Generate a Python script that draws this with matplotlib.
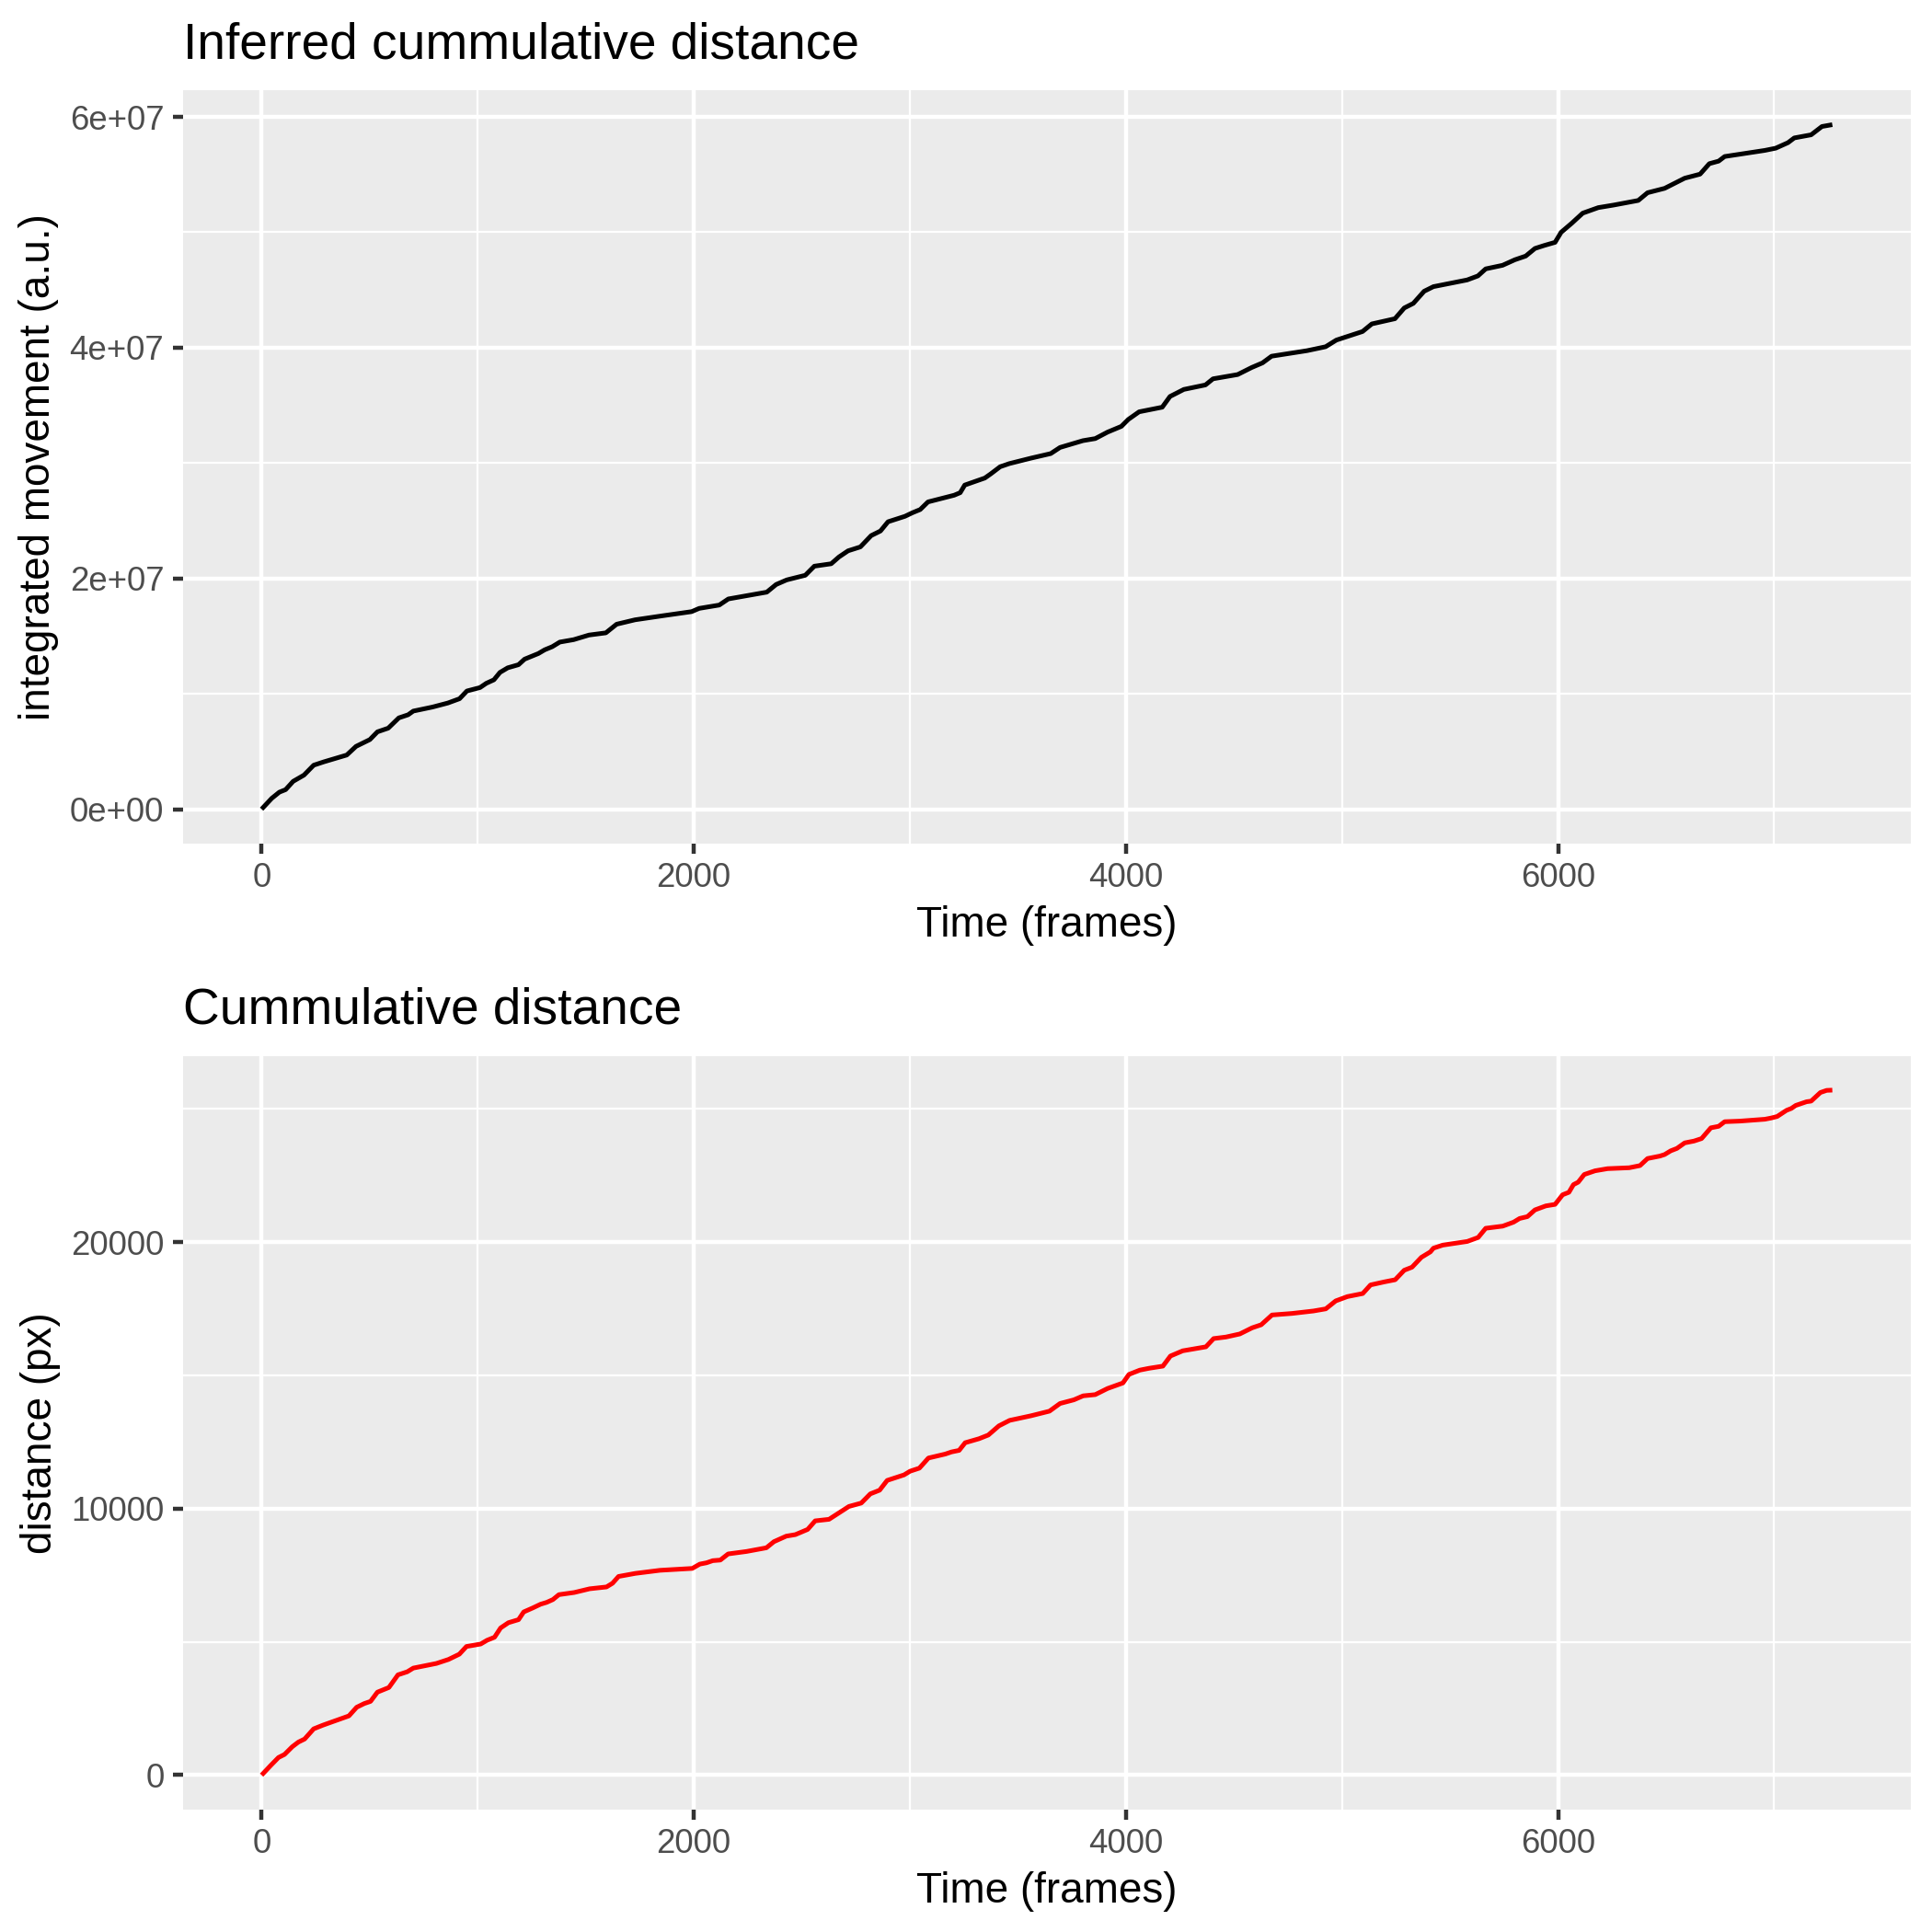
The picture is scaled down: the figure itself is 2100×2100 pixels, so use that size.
import matplotlib
matplotlib.use("Agg")
import matplotlib.pyplot as plt
from matplotlib.ticker import FixedLocator, FuncFormatter

plt.rcParams['font.family'] = ['Liberation Sans', 'DejaVu Sans']

# ---------------- data ----------------
frames_top = [0, 47, 82, 111, 146, 196, 241, 288, 394, 437,
              501, 536, 586, 635, 678, 702, 791, 862, 916, 950,
              1011, 1040, 1075, 1103, 1139, 1189, 1217, 1281, 1310, 1345,
              1380, 1444, 1515, 1593, 1643, 1728, 1855, 1990, 2025,
              2118, 2160, 2338, 2381, 2430, 2516, 2558, 2636, 2672, 2714,
              2771, 2821, 2864, 2899, 2977, 3013, 3048, 3084, 3205, 3233,
              3254, 3347, 3375, 3418, 3460, 3560, 3652, 3695, 3801, 3858,
              3915, 3979,
              4011, 4061, 4168, 4204, 4268, 4368, 4403, 4517, 4582, 4632,
              4674, 4838, 4924, 4974, 5095, 5138, 5245, 5288, 5330, 5380,
              5423, 5579, 5629, 5665, 5743, 5800, 5850, 5893, 5936, 5986,
              6014, 6064, 6114, 6186, 6257, 6371, 6414, 6493, 6586, 6657,
              6700, 6743, 6771, 6957, 7007, 7064, 7093, 7171, 7221, 7269]
# integrated movement, in units of 1e7 (a.u.)
movement_top_e7 = [0, 0.094, 0.147, 0.169, 0.241, 0.295, 0.381, 0.410, 0.469, 0.544,
                   0.603, 0.670, 0.702, 0.791, 0.818, 0.850, 0.885, 0.920, 0.957, 1.024,
                   1.054, 1.091, 1.121, 1.185, 1.225, 1.252, 1.300, 1.349, 1.381, 1.408,
                   1.448, 1.469, 1.509, 1.528, 1.603, 1.641, 1.676, 1.712, 1.740,
                   1.769, 1.822, 1.881, 1.947, 1.987, 2.027, 2.106, 2.127, 2.186, 2.239,
                   2.273, 2.371, 2.411, 2.491, 2.538, 2.570, 2.597, 2.663, 2.721, 2.743,
                   2.809, 2.870, 2.907, 2.968, 2.995, 3.042, 3.082, 3.135, 3.194, 3.212,
                   3.268, 3.318,
                   3.378, 3.444, 3.484, 3.577, 3.638, 3.677, 3.730, 3.767, 3.828, 3.868,
                   3.926, 3.974, 4.008, 4.066, 4.140, 4.206, 4.251, 4.344, 4.384, 4.489,
                   4.529, 4.587, 4.622, 4.683, 4.714, 4.762, 4.794, 4.860, 4.886, 4.913,
                   5.000, 5.080, 5.166, 5.214, 5.236, 5.276, 5.343, 5.381, 5.469, 5.504,
                   5.595, 5.617, 5.657, 5.710, 5.729, 5.777, 5.818, 5.845, 5.917, 5.933]

frames_bottom = [0, 43, 78, 106, 142, 170, 199, 241, 284, 312,
                 383, 404, 440, 475, 504, 536, 589, 631, 674, 702,
                 759, 809, 865, 915, 948, 1014, 1043, 1078, 1106, 1142,
                 1189, 1213, 1255, 1291, 1319, 1348, 1376, 1447, 1518, 1596,
                 1624, 1652, 1730, 1844, 1993, 2028,
                 2059, 2088, 2123, 2159, 2244, 2336, 2371, 2428, 2470, 2527,
                 2562, 2626, 2676, 2718, 2775, 2817, 2860, 2895, 2973, 3001,
                 3044, 3086, 3164, 3193, 3228, 3256, 3320, 3363, 3412, 3462,
                 3561, 3646, 3695, 3759, 3802, 3858, 3915, 3986,
                 4014, 4064, 4107, 4171, 4206, 4263, 4320, 4370, 4406, 4463,
                 4527, 4584, 4626, 4676, 4769, 4868, 4925, 4971, 5025, 5096,
                 5132, 5196, 5246, 5288, 5324, 5367, 5409, 5423, 5466, 5580,
                 5630, 5665, 5744, 5794, 5822, 5858, 5893, 5943, 5986,
                 6021, 6050, 6071, 6093, 6121, 6171, 6229, 6329, 6379, 6414,
                 6471, 6493, 6521, 6550, 6586, 6629, 6664, 6707, 6743, 6771,
                 6843, 6957, 6986, 7014, 7057, 7079, 7100, 7150, 7171, 7214,
                 7243, 7269]
distance_px = [0, 370, 660, 775, 1065, 1238, 1354, 1736, 1875, 1956,
               2164, 2222, 2546, 2685, 2766, 3113, 3287, 3762, 3877, 4016,
               4109, 4190, 4340, 4537, 4826, 4919, 5058, 5174, 5521, 5718,
               5833, 6123, 6273, 6412, 6481, 6586, 6771, 6852, 6991, 7060,
               7199, 7454, 7569, 7685, 7755, 7917,
               7966, 8046, 8069, 8299, 8391, 8529, 8759, 8966, 9023, 9218,
               9540, 9598, 9862, 10080, 10207, 10552, 10690, 11057, 11264, 11402,
               11517, 11897, 12046, 12126, 12184, 12471, 12621, 12759, 13103, 13310,
               13483, 13655, 13943, 14080, 14230, 14276, 14506, 14713,
               15034, 15195, 15264, 15345, 15724, 15920, 16000, 16069, 16379, 16437,
               16552, 16782, 16897, 17264, 17322, 17414, 17494, 17793, 17954, 18069,
               18391, 18506, 18586, 18943, 19057, 19425, 19632, 19770, 19885, 20023,
               20172, 20517, 20598, 20747, 20885, 20954, 21207, 21356, 21414,
               21774, 21867, 22154, 22247, 22535, 22673, 22754, 22788, 22869, 23134,
               23226, 23284, 23422, 23514, 23721, 23790, 23883, 24286, 24343, 24516,
               24539, 24608, 24654, 24712, 24942, 25012, 25127, 25265, 25288, 25611,
               25691, 25700]

x_major = [0, 2000, 4000, 6000]
x_minor = [1000, 3000, 5000, 7000]
top_y_major = [0, 2e7, 4e7, 6e7]
top_y_minor = [1e7, 3e7, 5e7]
bot_y_major = [0, 10000, 20000]
bot_y_minor = [5000, 15000, 25000]

titles = ["Inferred cummulative distance", "Cummulative distance"]
ylabels = ["integrated movement (a.u.)", "distance (px)"]
xlabel = "Time (frames)"

# ---------------- figure ----------------
fig = plt.figure(figsize=(7, 7), dpi=300)
W = H = 2100.0
ax_top = fig.add_axes([199 / W, 1 - 916.7 / H, (2077 - 199) / W, (916.7 - 98.3) / H])
ax_bot = fig.add_axes([199 / W, 1 - 1966.7 / H, (2077 - 199) / W, (1966.7 - 1147.7) / H])

MAJ_LW = 1.07
MIN_LW = 0.53
DATA_LW = 1.2


def style(ax, xs, ys, ymaj, ymin, title, ylabel, fmt):
    ax.set_facecolor('#EBEBEB')
    for s in ax.spines.values():
        s.set_visible(False)
    xr = max(xs) - min(xs)
    ax.set_xlim(min(xs) - 0.05 * xr, max(xs) + 0.05 * xr)
    yr = max(ys) - min(ys)
    ax.set_ylim(min(ys) - 0.05 * yr, max(ys) + 0.05 * yr)
    ax.xaxis.set_major_locator(FixedLocator(x_major))
    ax.xaxis.set_minor_locator(FixedLocator(x_minor))
    ax.yaxis.set_major_locator(FixedLocator(ymaj))
    ax.yaxis.set_minor_locator(FixedLocator(ymin))
    ax.yaxis.set_major_formatter(FuncFormatter(fmt))
    ax.grid(which='major', color='white', linewidth=MAJ_LW)
    ax.grid(which='minor', color='white', linewidth=MIN_LW)
    ax.set_axisbelow(True)
    ax.tick_params(which='major', length=2.75, width=MAJ_LW, color='#333333',
                   labelsize=8.8, labelcolor='#4D4D4D', pad=2.2)
    ax.tick_params(which='minor', length=0, width=0)
    ax.set_title(title, loc='left', fontsize=13.2, color='black', pad=8.4)
    ax.set_xlabel(xlabel, fontsize=11, color='black', labelpad=2.75)
    ax.set_ylabel(ylabel, fontsize=11, color='black', labelpad=2.75)


top_vals = [v * 1e7 for v in movement_top_e7]
ax_top.plot(frames_top, top_vals, color='black', linewidth=DATA_LW,
            solid_joinstyle='round', solid_capstyle='butt')
style(ax_top, frames_top, top_vals, top_y_major, top_y_minor, titles[0], ylabels[0],
      lambda v, p: "%.0e" % v)

ax_bot.plot(frames_bottom, distance_px, color='#FF0000', linewidth=DATA_LW,
            solid_joinstyle='round', solid_capstyle='butt')
style(ax_bot, frames_bottom, distance_px, bot_y_major, bot_y_minor, titles[1], ylabels[1],
      lambda v, p: "%d" % v)

fig.savefig("out.png", dpi=300)
